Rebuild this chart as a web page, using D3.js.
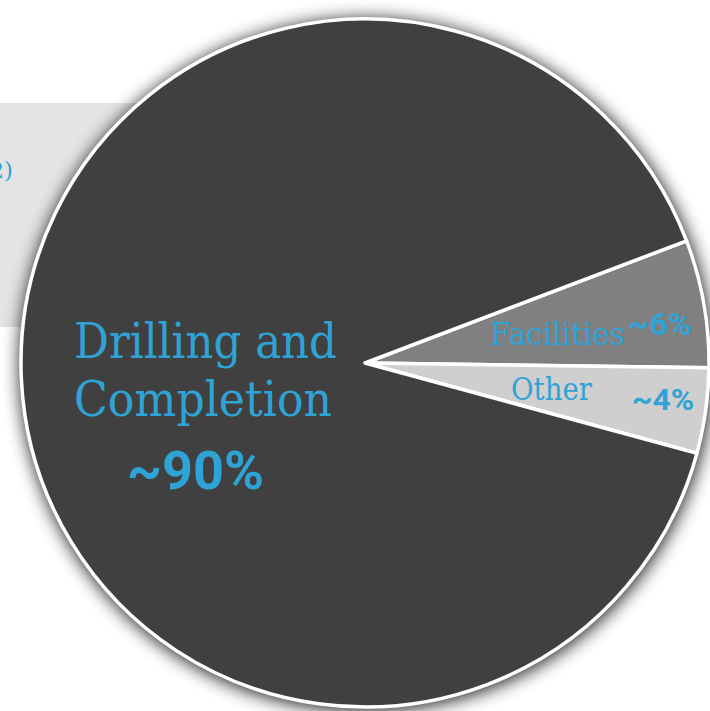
<!DOCTYPE html>
<html><head><meta charset="utf-8">
<script src="https://cdn.jsdelivr.net/npm/d3@7"></script>
<style>html,body{margin:0;padding:0;background:#fff;overflow:hidden}</style>
</head><body>
<svg id="c" width="710" height="711"></svg>
<script>
const categories = ["Facilities", "Other", "Drilling and Completion"];
const values = [6, 4, 90];
const valueLabels = ["~6%", "~4%", "~90%"];
const sideNote = "(Note 2)";

const W = 710, H = 711, cx = 365, cy = 363, R = 344;
const blue = "#2fa3d5";
const colors = d3.scaleOrdinal().domain(categories).range(["#808080", "#d0cfcf", "#404040"]);
const svg = d3.select("#c");

const defs = svg.append("defs");
const f = defs.append("filter").attr("id","sh").attr("x","-20%").attr("y","-20%").attr("width","140%").attr("height","140%");
f.append("feGaussianBlur").attr("in","SourceAlpha").attr("stdDeviation",9).attr("result","b");
f.append("feOffset").attr("in","b").attr("dx",1).attr("dy",2).attr("result","o");
f.append("feComponentTransfer").attr("in","o").append("feFuncA").attr("type","linear").attr("slope",0.9);

// background panel
svg.append("rect").attr("x",0).attr("y",103).attr("width",300).attr("height",224).attr("fill","#e4e4e4");
svg.append("text").attr("x",13).attr("y",178).attr("text-anchor","end")
  .attr("font-family","DejaVu Serif").attr("font-size",23).attr("font-weight",300)
  .attr("fill",blue).text(sideNote);

const g = svg.append("g").attr("transform",`translate(${cx},${cy})`);
g.append("circle").attr("r",R+2).attr("fill","#000").attr("filter","url(#sh)");

const start = (90-20.8)*Math.PI/180;
const pie = d3.pie().sort(null).value(d=>d).startAngle(start).endAngle(start+2*Math.PI);
const arcs = pie(values);
const arc = d3.arc().innerRadius(0).outerRadius(R);
g.selectAll("path.s").data(arcs).join("path").attr("class","s")
  .attr("d",arc).attr("fill",(d,i)=>colors(categories[i]))
  .attr("stroke","#fff").attr("stroke-width",3.5).attr("stroke-linejoin","round");

const serif = "DejaVu Serif";
function t(x,y,txt,size,len,opts={}){
  const e = svg.append("text").attr("x",x).attr("y",y).attr("fill",blue)
    .attr("font-family",opts.bold?"Roboto, 'Liberation Sans', sans-serif":serif).attr("font-size",size)
    .attr("font-weight",opts.bold?"bold":300).text(txt);
  if(len) e.attr("textLength",len).attr("lengthAdjust","spacingAndGlyphs");
  return e;
}
// Drilling and Completion label
t(74,358,"Drilling and",49,263);
t(74,416,"Completion",49,258);
t(127,489,valueLabels[2],53,137,{bold:true});
// Facilities
t(490,345,categories[0],31,135);
t(628,335,valueLabels[0],31,64,{bold:true});
// Other
t(511,400,categories[1],31,81);
t(632,410,valueLabels[1],30,62,{bold:true});
</script>
</body></html>
